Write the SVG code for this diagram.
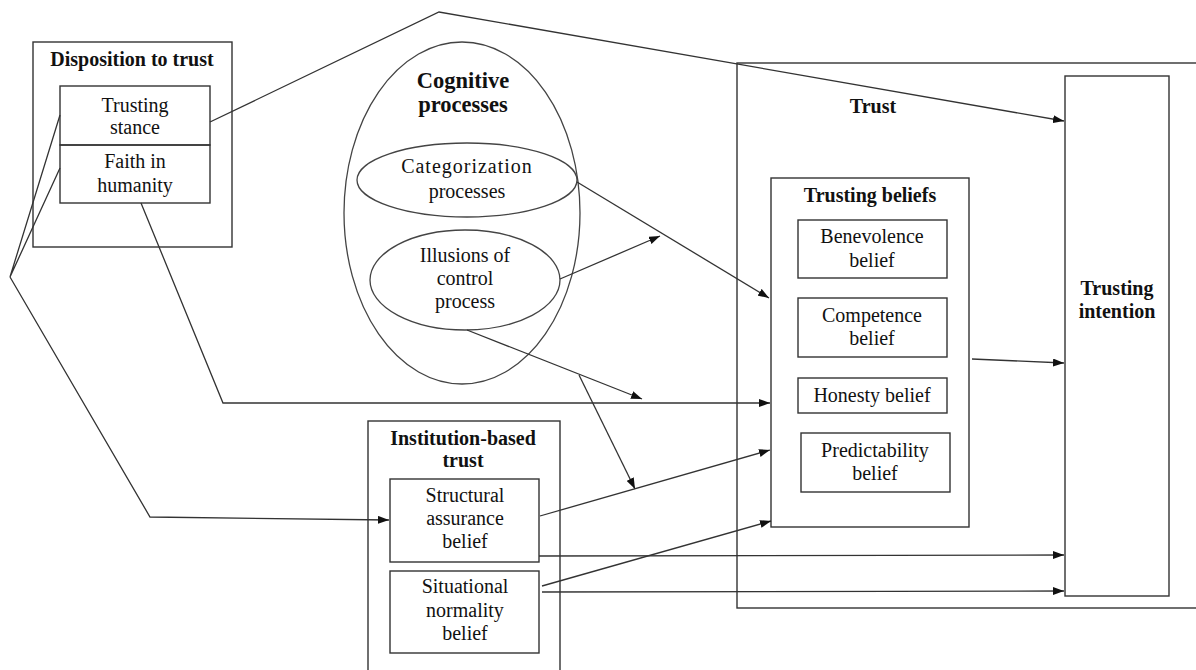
<svg xmlns="http://www.w3.org/2000/svg" width="1196" height="670" viewBox="0 0 1196 670">
<defs>
<marker id="arr" markerUnits="userSpaceOnUse" markerWidth="11" markerHeight="8" refX="11" refY="4" orient="auto">
<path d="M0,0 L11,4 L0,8 z" fill="#111"/>
</marker>
<style>
.box{fill:none;stroke:#333;stroke-width:1.4}
.ell{fill:none;stroke:#444;stroke-width:1.3}
.t{font-family:"Liberation Serif","Times New Roman",serif;font-size:20px;fill:#111;text-anchor:middle}
.b{font-family:"Liberation Serif","Times New Roman",serif;font-size:20px;font-weight:bold;fill:#111;text-anchor:middle}
.c{fill:none;stroke:#333;stroke-width:1.3}
.a{fill:none;stroke:#333;stroke-width:1.3;marker-end:url(#arr)}
</style>
</defs>
<rect width="1196" height="670" fill="#fff"/>

<g id="trust">
<rect class="box" x="737" y="63" width="470" height="545"/>
<text class="b" x="873" y="113">Trust</text>
</g>

<g id="disposition">
<rect class="box" x="33" y="42" width="199" height="205"/>
<text class="b" x="132" y="66">Disposition to trust</text>
</g>
<g id="trusting-stance">
<rect class="box" x="60" y="86" width="150" height="59"/>
<text class="t" x="135" y="112">Trusting</text>
<text class="t" x="135" y="134">stance</text>
</g>
<g id="faith">
<rect class="box" x="60" y="145" width="150" height="58"/>
<text class="t" x="135" y="168">Faith in</text>
<text class="t" x="135" y="192">humanity</text>
</g>

<g id="cognitive">
<ellipse class="ell" cx="462" cy="213" rx="118" ry="171"/>
<text class="b" x="463" y="88" style="font-size:22.5px">Cognitive</text>
<text class="b" x="463" y="112" style="font-size:22.5px">processes</text>
</g>
<g id="categorization">
<ellipse class="ell" cx="467" cy="180" rx="110" ry="37"/>
<text class="t" x="467" y="173" style="letter-spacing:1px">Categorization</text>
<text class="t" x="467" y="198">processes</text>
</g>
<g id="illusions">
<ellipse class="ell" cx="465" cy="280" rx="95" ry="50"/>
<text class="t" x="465" y="262">Illusions of</text>
<text class="t" x="465" y="285">control</text>
<text class="t" x="465" y="308">process</text>
</g>

<g id="institution">
<rect class="box" x="368" y="421" width="192" height="260"/>
<text class="b" x="463" y="445">Institution-based</text>
<text class="b" x="463" y="467">trust</text>
</g>
<g id="structural">
<rect class="box" x="390" y="479" width="149" height="83"/>
<text class="t" x="465" y="502">Structural</text>
<text class="t" x="465" y="525">assurance</text>
<text class="t" x="465" y="548">belief</text>
</g>
<g id="situational">
<rect class="box" x="390" y="571" width="149" height="82"/>
<text class="t" x="465" y="593">Situational</text>
<text class="t" x="465" y="617">normality</text>
<text class="t" x="465" y="640">belief</text>
</g>

<g id="trusting-beliefs">
<rect class="box" x="771" y="178" width="198" height="349"/>
<text class="b" x="870" y="202">Trusting beliefs</text>
</g>
<g id="benevolence">
<rect class="box" x="798" y="220" width="149" height="58"/>
<text class="t" x="872" y="243">Benevolence</text>
<text class="t" x="872" y="267">belief</text>
</g>
<g id="competence">
<rect class="box" x="798" y="298" width="149" height="59"/>
<text class="t" x="872" y="322">Competence</text>
<text class="t" x="872" y="345">belief</text>
</g>
<g id="honesty">
<rect class="box" x="798" y="378" width="149" height="35"/>
<text class="t" x="872" y="402">Honesty belief</text>
</g>
<g id="predictability">
<rect class="box" x="801" y="433" width="149" height="59"/>
<text class="t" x="875" y="457">Predictability</text>
<text class="t" x="875" y="480">belief</text>
</g>

<g id="trusting-intention">
<rect class="box" x="1065" y="76" width="104" height="520"/>
<text class="b" x="1117" y="295">Trusting</text>
<text class="b" x="1117" y="318">intention</text>
</g>

<g id="connectors">
<polyline class="c" points="60,115 10,277 60,168"/>
<polyline class="a" points="10,277 150,517 389,520"/>
<polyline class="a" points="141,203 223,403 770,403"/>
<polyline class="a" points="210,122 439,12 1064,121"/>
<line class="a" x1="577" y1="182" x2="769" y2="298"/>
<line class="a" x1="560" y1="279" x2="660" y2="236"/>
<line class="a" x1="467" y1="330" x2="642" y2="399"/>
<line class="a" x1="579" y1="375" x2="635" y2="489"/>
<line class="a" x1="540" y1="516" x2="770" y2="450"/>
<line class="a" x1="542" y1="586" x2="771" y2="521"/>
<line class="a" x1="539" y1="556" x2="1064" y2="555"/>
<line class="a" x1="542" y1="592" x2="1064" y2="591"/>
<line class="a" x1="972" y1="359" x2="1064" y2="363"/>
</g>
</svg>
